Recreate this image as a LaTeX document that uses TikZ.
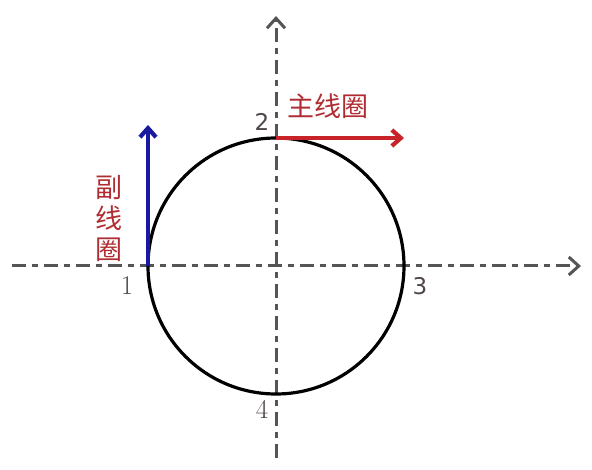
\documentclass[tikz,border=0pt]{standalone}
\usepackage{fontspec}
\newfontfamily\cjk{Noto Sans CJK SC}
\newfontfamily\sansd{DejaVu Sans}
\usetikzlibrary{arrows.meta}
\definecolor{axisgray}{RGB}{85,85,85}
\definecolor{coilred}{RGB}{200,35,40}
\definecolor{txtred}{RGB}{175,45,50}
\definecolor{coilblue}{RGB}{25,25,160}
\definecolor{numgray}{RGB}{80,70,70}
\begin{document}
\begin{tikzpicture}[x=1pt,y=-1pt,
  axis/.style={draw=axisgray,line width=3pt,dash pattern=on 14pt off 6pt on 6pt off 6pt,
    -{Straight Barb[length=10pt,width=18pt,line width=3pt]}},
  coil/.style={line width=4.2pt,-{Straight Barb[length=9pt,width=16pt,line width=4.2pt]}},
  num/.style={text=numgray,inner sep=0pt},
  cn/.style={text=txtred,font=\cjk\fontsize{27}{31}\selectfont,inner sep=0pt}]
\useasboundingbox (0,0) rectangle (592,470);
\coordinate (xs) at (12,266);
\coordinate (xe) at (581,266);
\coordinate (ys) at (276,458);
\coordinate (ye) at (276,16);
\coordinate (O) at (276,266);
\draw[axis] (xs) -- (xe);
\draw[axis] (ys) -- (ye);
\draw[line width=3.2pt] (O) circle[radius=128];
\coordinate (p1) at (148,266);
\coordinate (p2) at (276,138);
\coordinate (b2) at (148,125);
\coordinate (r2) at (404,138);
\draw[coil,coilblue] (p1) -- (b2);
\draw[coil,coilred] (p2) -- (r2);
\node[num,font=\sansd\fontsize{23}{23}\selectfont] (n2) at (262,122) {2};
\node[num,font=\fontsize{27}{27}\selectfont] (n1) at (127,286) {1};
\node[num,font=\sansd\fontsize{23}{23}\selectfont] (n3) at (420,286) {3};
\node[num,font=\fontsize{27}{27}\selectfont] (n4) at (262,409) {4};
\node[cn] (main) at (328,106) {主线圈};
\node[cn,align=center] (aux) at (109,218) {副\\线\\圈};
\end{tikzpicture}
\end{document}
